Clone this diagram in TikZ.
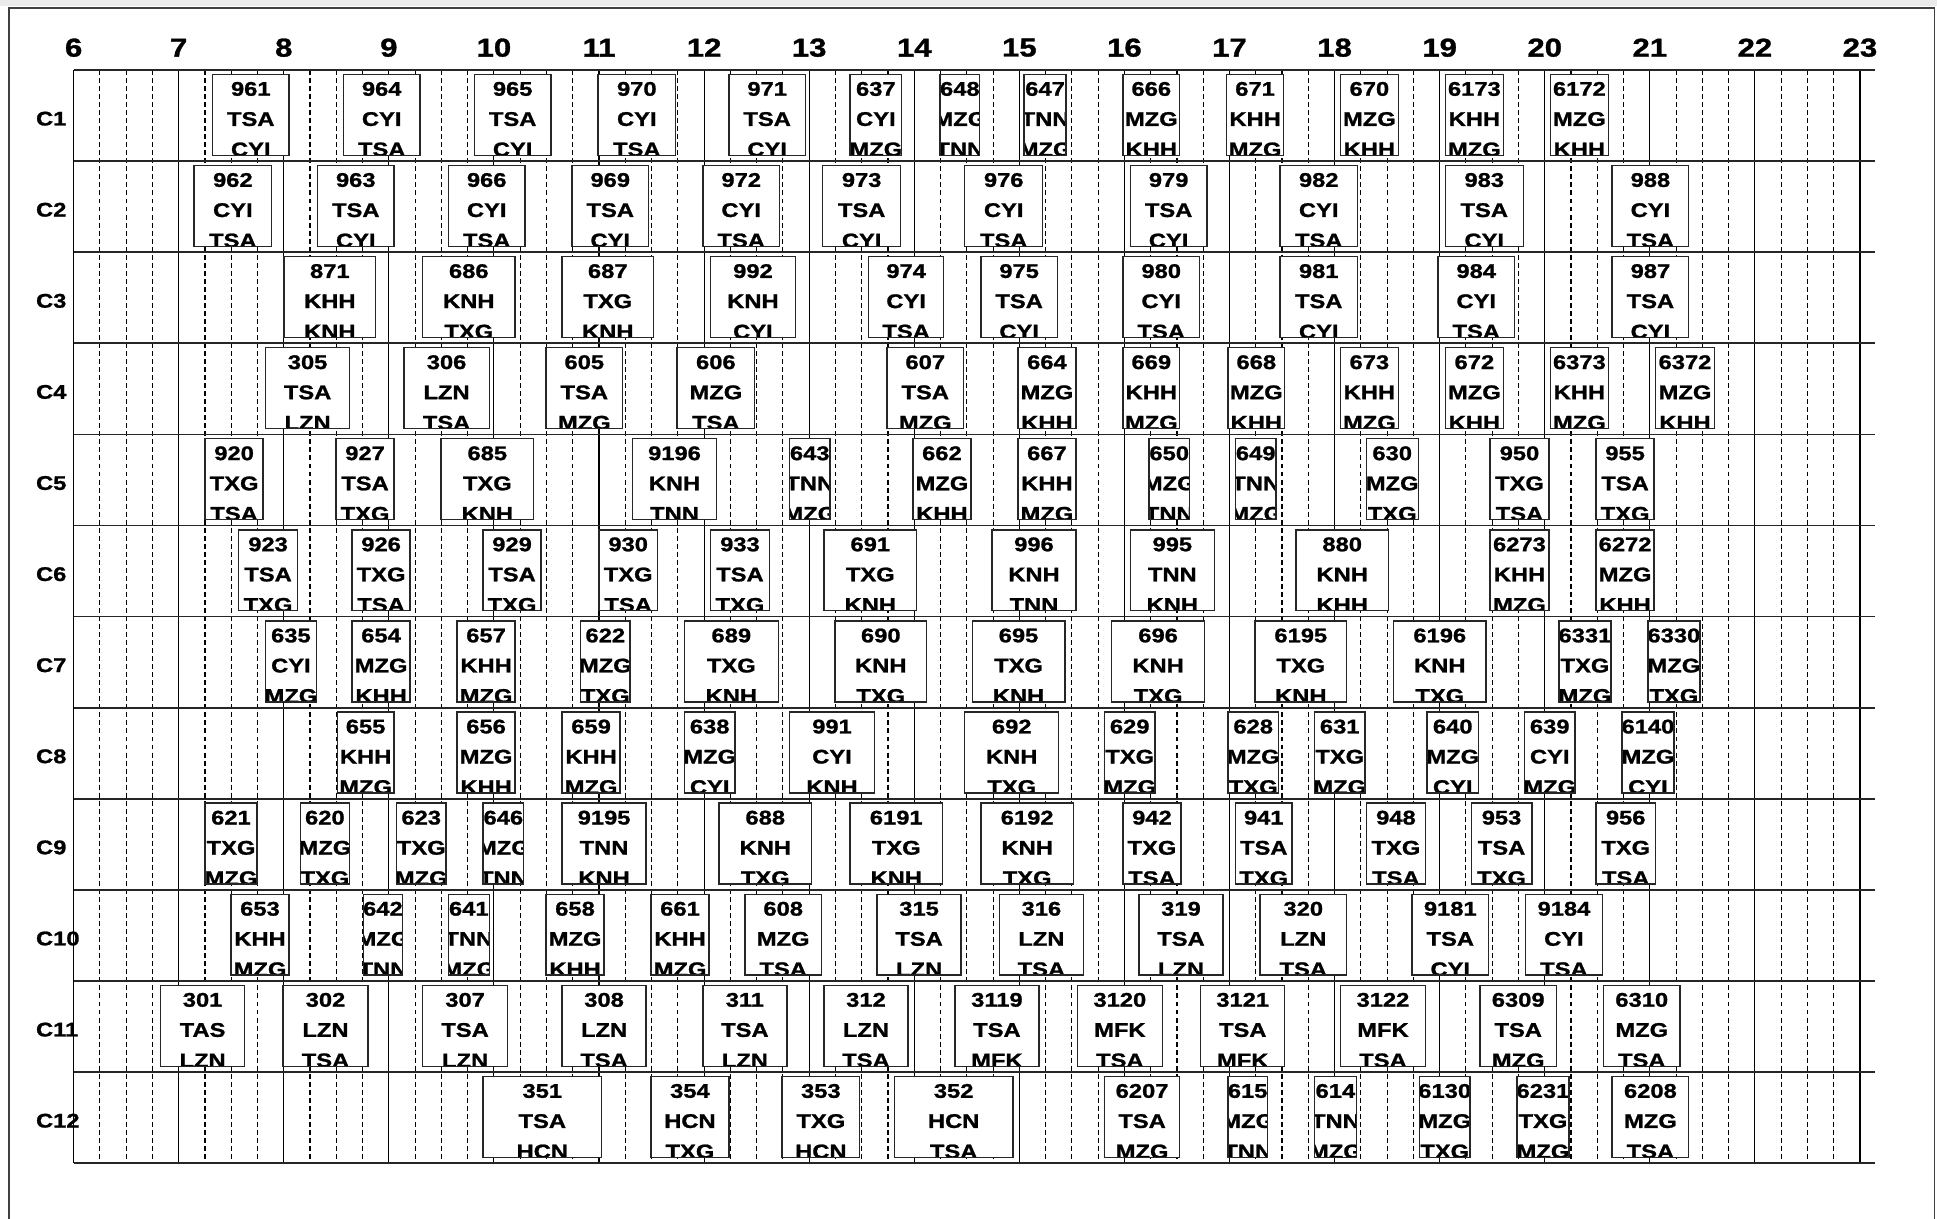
\documentclass[tikz,border=0pt]{standalone}
\usepackage{fontspec}
\newfontfamily\lbf{Liberation Sans}[FakeStretch=1.2,FakeBold=1.2]
\tikzset{
  vsolid/.style={line width=0.9pt,black},
  vdash/.style={line width=0.9pt,black,dash pattern=on 4pt off 2.5pt},
  hline/.style={line width=1.4pt,black!85},
  boxl/.style={line width=1.1pt,black!85},
  blab/.style={anchor=base,inner sep=0pt,font=\lbf\bfseries\fontsize{16}{16}\selectfont},
  hdr/.style={inner sep=0pt,font=\lbf\bfseries\fontsize{21}{21}\selectfont},
  rlab/.style={inner sep=0pt,anchor=west,font=\lbf\bfseries\fontsize{16}{16}\selectfont}
}
\newcommand\gbox[6]{%
  \pgfmathsetmacro\gT{56.7+(#1-1)*73.74+3.5}%
  \pgfmathsetmacro\gB{\gT+65.5}%
  \pgfmathsetmacro\gC{(#2+#3)/2}%
  \fill[white] (#2,\gT) rectangle (#3,\gB);
  \begin{scope}
    \clip (#2,\gT) rectangle (#3,\gB);
    \node[blab] (f#4) at (\gC,\gT+17.3) {#4};
    \node[blab] (f#4o) at (\gC,\gT+41.7) {#5};
    \node[blab] (f#4d) at (\gC,\gT+66.3) {#6};
  \end{scope}
  \draw[boxl] (#2,\gT) rectangle (#3,\gB);
}
\begin{document}
\begin{tikzpicture}[x=1pt,y=-1pt]
\useasboundingbox (0,0) rectangle (1568,986);
\fill[black!8] (0,0) rectangle (1568,5);
\draw[line width=1.3pt,black!75] (7.5,1000) -- (7.5,6.5) -- (1566,6.5) -- (1566,1000);
% grid
\foreach \u in {0,...,17} \draw[vsolid] ({59.6+\u*85.06},56.7) -- ++(0,884.9);
\foreach \u in {0,...,16} \foreach \q in {1,2,3} \draw[vdash] ({59.6+(\u+\q/4)*85.06},56.7) -- ++(0,884.9);
\foreach \k in {0,...,12} \draw[hline] (59.6,{56.7+\k*73.74}) -- (1518,{56.7+\k*73.74});
% headers
\foreach \u in {6,...,23} \node[hdr] (h\u) at ({59.6+(\u-6)*85.06},38.6) {\u};
\foreach \r in {1,...,12} \node[rlab] (r\r) at (29,{56.7+(\r-0.5)*73.74+2.5}) {C\r};
% C1
\gbox{1}{172}{234}{961}{TSA}{CYI}
\gbox{1}{278}{340}{964}{CYI}{TSA}
\gbox{1}{384}{446}{965}{TSA}{CYI}
\gbox{1}{484}{547}{970}{CYI}{TSA}
\gbox{1}{590}{652}{971}{TSA}{CYI}
\gbox{1}{688}{730}{637}{CYI}{MZG}
\gbox{1}{761}{793}{648}{MZG}{TNN}
\gbox{1}{829}{863}{647}{TNN}{MZG}
\gbox{1}{909}{955}{666}{MZG}{KHH}
\gbox{1}{993}{1039}{671}{KHH}{MZG}
\gbox{1}{1085}{1132}{670}{MZG}{KHH}
\gbox{1}{1170}{1217}{6173}{KHH}{MZG}
\gbox{1}{1255}{1302}{6172}{MZG}{KHH}
% C2
\gbox{2}{157}{220}{962}{CYI}{TSA}
\gbox{2}{257}{319}{963}{TSA}{CYI}
\gbox{2}{363}{425}{966}{CYI}{TSA}
\gbox{2}{463}{525}{969}{TSA}{CYI}
\gbox{2}{569}{631}{972}{CYI}{TSA}
\gbox{2}{666}{729}{973}{TSA}{CYI}
\gbox{2}{781}{844}{976}{CYI}{TSA}
\gbox{2}{915}{977}{979}{TSA}{CYI}
\gbox{2}{1036}{1099}{982}{CYI}{TSA}
\gbox{2}{1170}{1233}{983}{TSA}{CYI}
\gbox{2}{1305}{1367}{988}{CYI}{TSA}
% C3
\gbox{3}{230}{304}{871}{KHH}{KNH}
\gbox{3}{342}{417}{686}{KNH}{TXG}
\gbox{3}{455}{529}{687}{TXG}{KNH}
\gbox{3}{575}{644}{992}{KNH}{CYI}
\gbox{3}{703}{764}{974}{CYI}{TSA}
\gbox{3}{794}{856}{975}{TSA}{CYI}
\gbox{3}{909}{971}{980}{CYI}{TSA}
\gbox{3}{1036}{1099}{981}{TSA}{CYI}
\gbox{3}{1164}{1226}{984}{CYI}{TSA}
\gbox{3}{1305}{1367}{987}{TSA}{CYI}
% C4
\gbox{4}{215}{283}{305}{TSA}{LZN}
\gbox{4}{327}{396}{306}{LZN}{TSA}
\gbox{4}{442}{504}{605}{TSA}{MZG}
\gbox{4}{548}{611}{606}{MZG}{TSA}
\gbox{4}{718}{780}{607}{TSA}{MZG}
\gbox{4}{824}{871}{664}{MZG}{KHH}
\gbox{4}{909}{955}{669}{KHH}{MZG}
\gbox{4}{994}{1040}{668}{MZG}{KHH}
\gbox{4}{1085}{1132}{673}{KHH}{MZG}
\gbox{4}{1170}{1217}{672}{MZG}{KHH}
\gbox{4}{1255}{1302}{6373}{KHH}{MZG}
\gbox{4}{1340}{1388}{6372}{MZG}{KHH}
% C5
\gbox{5}{166}{213}{920}{TXG}{TSA}
\gbox{5}{272}{319}{927}{TSA}{TXG}
\gbox{5}{357}{432}{685}{TXG}{KNH}
\gbox{5}{512}{580}{9196}{KNH}{TNN}
\gbox{5}{639}{672}{643}{TNN}{MZG}
\gbox{5}{739}{786}{662}{MZG}{KHH}
\gbox{5}{824}{871}{667}{KHH}{MZG}
\gbox{5}{930}{963}{650}{MZG}{TNN}
\gbox{5}{1000}{1033}{649}{TNN}{MZG}
\gbox{5}{1106}{1148}{630}{MZG}{TXG}
\gbox{5}{1206}{1254}{950}{TXG}{TSA}
\gbox{5}{1292}{1339}{955}{TSA}{TXG}
% C6
\gbox{6}{193}{241}{923}{TSA}{TXG}
\gbox{6}{285}{332}{926}{TXG}{TSA}
\gbox{6}{391}{438}{929}{TSA}{TXG}
\gbox{6}{485}{532}{930}{TXG}{TSA}
\gbox{6}{575}{623}{933}{TSA}{TXG}
\gbox{6}{667}{742}{691}{TXG}{KNH}
\gbox{6}{803}{871}{996}{KNH}{TNN}
\gbox{6}{915}{983}{995}{TNN}{KNH}
\gbox{6}{1049}{1124}{880}{KNH}{KHH}
\gbox{6}{1206}{1254}{6273}{KHH}{MZG}
\gbox{6}{1292}{1339}{6272}{MZG}{KHH}
% C7
\gbox{7}{215}{256}{635}{CYI}{MZG}
\gbox{7}{285}{332}{654}{MZG}{KHH}
\gbox{7}{370}{417}{657}{KHH}{MZG}
\gbox{7}{470}{510}{622}{MZG}{TXG}
\gbox{7}{554}{630}{689}{TXG}{KNH}
\gbox{7}{676}{750}{690}{KNH}{TXG}
\gbox{7}{787}{862}{695}{TXG}{KNH}
\gbox{7}{900}{975}{696}{KNH}{TXG}
\gbox{7}{1016}{1090}{6195}{TXG}{KNH}
\gbox{7}{1128}{1203}{6196}{KNH}{TXG}
\gbox{7}{1262}{1304}{6331}{TXG}{MZG}
\gbox{7}{1334}{1376}{6330}{MZG}{TXG}
% C8
\gbox{8}{273}{319}{655}{KHH}{MZG}
\gbox{8}{370}{417}{656}{MZG}{KHH}
\gbox{8}{455}{502}{659}{KHH}{MZG}
\gbox{8}{554}{595}{638}{MZG}{CYI}
\gbox{8}{639}{708}{991}{CYI}{KNH}
\gbox{8}{781}{857}{692}{KNH}{TXG}
\gbox{8}{894}{935}{629}{TXG}{MZG}
\gbox{8}{994}{1035}{628}{MZG}{TXG}
\gbox{8}{1064}{1105}{631}{TXG}{MZG}
\gbox{8}{1155}{1197}{640}{MZG}{CYI}
\gbox{8}{1234}{1275}{639}{CYI}{MZG}
\gbox{8}{1313}{1355}{6140}{MZG}{CYI}
% C9
\gbox{9}{166}{208}{621}{TXG}{MZG}
\gbox{9}{243}{283}{620}{MZG}{TXG}
\gbox{9}{321}{361}{623}{TXG}{MZG}
\gbox{9}{391}{424}{646}{MZG}{TNN}
\gbox{9}{455}{523}{9195}{TNN}{KNH}
\gbox{9}{582}{657}{688}{KNH}{TXG}
\gbox{9}{688}{763}{6191}{TXG}{KNH}
\gbox{9}{794}{869}{6192}{KNH}{TXG}
\gbox{9}{909}{956}{942}{TXG}{TSA}
\gbox{9}{1000}{1046}{941}{TSA}{TXG}
\gbox{9}{1106}{1154}{948}{TXG}{TSA}
\gbox{9}{1191}{1240}{953}{TSA}{TXG}
\gbox{9}{1292}{1340}{956}{TXG}{TSA}
% C10
\gbox{10}{187}{234}{653}{KHH}{MZG}
\gbox{10}{294}{326}{642}{MZG}{TNN}
\gbox{10}{363}{396}{641}{TNN}{MZG}
\gbox{10}{442}{489}{658}{MZG}{KHH}
\gbox{10}{527}{574}{661}{KHH}{MZG}
\gbox{10}{603}{665}{608}{MZG}{TSA}
\gbox{10}{710}{778}{315}{TSA}{LZN}
\gbox{10}{809}{877}{316}{LZN}{TSA}
\gbox{10}{922}{990}{319}{TSA}{LZN}
\gbox{10}{1020}{1090}{320}{LZN}{TSA}
\gbox{10}{1143}{1205}{9181}{TSA}{CYI}
\gbox{10}{1235}{1297}{9184}{CYI}{TSA}
% C11
\gbox{11}{130}{198}{301}{TAS}{LZN}
\gbox{11}{229}{298}{302}{LZN}{TSA}
\gbox{11}{342}{411}{307}{TSA}{LZN}
\gbox{11}{455}{523}{308}{LZN}{TSA}
\gbox{11}{569}{637}{311}{TSA}{LZN}
\gbox{11}{667}{735}{312}{LZN}{TSA}
\gbox{11}{773}{841}{3119}{TSA}{MFK}
\gbox{11}{872}{941}{3120}{MFK}{TSA}
\gbox{11}{972}{1040}{3121}{TSA}{MFK}
\gbox{11}{1085}{1154}{3122}{MFK}{TSA}
\gbox{11}{1198}{1260}{6309}{TSA}{MZG}
\gbox{11}{1298}{1360}{6310}{MZG}{TSA}
% C12
\gbox{12}{391}{487}{351}{TSA}{HCN}
\gbox{12}{527}{590}{354}{HCN}{TXG}
\gbox{12}{633}{696}{353}{TXG}{HCN}
\gbox{12}{724}{820}{352}{HCN}{TSA}
\gbox{12}{894}{955}{6207}{TSA}{MZG}
\gbox{12}{994}{1026}{615}{MZG}{TNN}
\gbox{12}{1064}{1098}{614}{TNN}{MZG}
\gbox{12}{1149}{1190}{6130}{MZG}{TXG}
\gbox{12}{1228}{1270}{6231}{TXG}{MZG}
\gbox{12}{1305}{1367}{6208}{MZG}{TSA}
\end{tikzpicture}
\end{document}
